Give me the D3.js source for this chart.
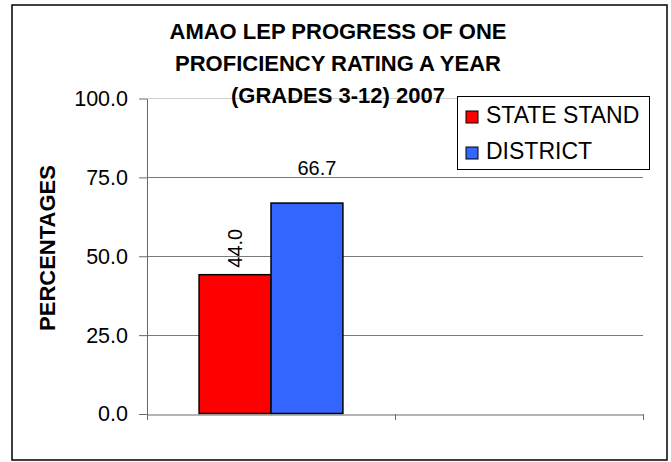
<!DOCTYPE html>
<html><head><meta charset="utf-8">
<script src="https://cdn.jsdelivr.net/npm/d3@7"></script>
<style>body{margin:0;background:#fff}svg{display:block;font-family:"Liberation Sans",Arial,sans-serif}</style>
</head><body><svg id="c" width="671" height="462"></svg>
<script>
const titleLines = ["AMAO LEP PROGRESS OF ONE", "PROFICIENCY RATING A YEAR", "(GRADES 3-12) 2007"];
const categories = ["2007", "(blank)"];
const seriesNames = ["STATE STAND", "DISTRICT"];
const seriesColors = ["#FF0000", "#3366FF"];
const stateValues = [44.0, null];
const districtValues = [66.7, null];
const yTicks = [0, 25, 50, 75, 100];
const yLabel = "PERCENTAGES";

const svg = d3.select("#c");
svg.append("rect").attr("x", 12).attr("y", 5).attr("width", 655).attr("height", 455)
  .attr("fill", "#fff").attr("stroke", "#000").attr("stroke-width", 1.5);

const L = 147, R = 643, T = 98, B = 413.5;
const y = d3.scaleLinear().domain([0, 100]).range([B, T]);
const x0 = d3.scaleBand().domain(categories).range([L, R]).paddingInner(0.42).paddingOuter(0.21);
const x1 = d3.scaleBand().domain(seriesNames).range([0, x0.bandwidth()]);

// gridlines
svg.append("g").selectAll("line").data(yTicks.filter(d => d > 0)).join("line")
  .attr("x1", L).attr("x2", R).attr("y1", d => Math.round(y(d)) + 0.5).attr("y2", d => Math.round(y(d)) + 0.5)
  .attr("stroke", d => d === 100 ? "#d0d0d0" : "#7a7a7a").attr("stroke-width", 1);

// y axis
const yAxis = svg.append("g").attr("transform", `translate(${L},0.5)`)
  .call(d3.axisLeft(y).tickValues(yTicks).tickFormat(d3.format(".1f")).tickSizeInner(8).tickSizeOuter(0).tickPadding(11));
yAxis.select(".domain").attr("stroke", "#6a6a6a");
yAxis.selectAll(".tick line").attr("stroke", "#6a6a6a");
yAxis.selectAll("text").attr("font-size", 21.5).attr("fill", "#000").attr("font-family", "Liberation Sans, Arial, sans-serif");

// bars
const data = categories.map((c, i) => ({cat: c, vals: [stateValues[i], districtValues[i]]}));
const groups = svg.append("g").selectAll("g").data(data).join("g")
  .attr("transform", d => `translate(${x0(d.cat)},0)`);
groups.selectAll("rect").data(d => d.vals.map((v, j) => ({v, s: seriesNames[j], j})).filter(e => e.v != null))
  .join("rect")
  .attr("x", e => x1(e.s)).attr("y", e => y(e.v))
  .attr("width", x1.bandwidth()).attr("height", e => y(0) - y(e.v))
  .attr("fill", e => seriesColors[e.j]).attr("stroke", "#000").attr("stroke-width", 1.5);

// x axis
const xAxis = svg.append("g").attr("transform", `translate(0,${Math.round(B) + 0.5})`)
  .call(d3.axisBottom(x0).tickSizeInner(0).tickSizeOuter(0).tickFormat(""));
xAxis.select(".domain").attr("stroke", "#6a6a6a");
xAxis.selectAll(".tick").remove();
const bounds = [L, ...categories.slice(1).map(c => x0(c) - x0.step() * x0.paddingInner() / 2), R];
svg.append("g").selectAll("line").data(bounds).join("line")
  .attr("x1", d => Math.round(d) + 0.5).attr("x2", d => Math.round(d) + 0.5)
  .attr("y1", Math.round(B)).attr("y2", Math.round(B) + 6).attr("stroke", "#6a6a6a");

// data labels
const c0 = x0(categories[0]);
svg.append("text")
  .attr("transform", `translate(${c0 + x1(seriesNames[0]) + x1.bandwidth() / 2 + 7},${y(stateValues[0]) - 7}) rotate(-90)`)
  .attr("font-size", 20).text(stateValues[0].toFixed(1));
svg.append("text")
  .attr("x", c0 + x1(seriesNames[1]) + x1.bandwidth() / 2 + 10).attr("y", y(districtValues[0]) - 28)
  .attr("text-anchor", "middle").attr("font-size", 20).text(districtValues[0].toFixed(1));

// title
svg.append("text").attr("text-anchor", "middle").attr("font-weight", "bold").attr("font-size", 22)
  .selectAll("tspan").data(titleLines).join("tspan")
  .attr("x", 338).attr("y", (d, i) => 38.5 + i * 32).text(d => d);

// y label
svg.append("text").attr("transform", "translate(55,248) rotate(-90)").attr("text-anchor", "middle")
  .attr("font-weight", "bold").attr("font-size", 22).text(yLabel);

// legend
const lg = svg.append("g");
lg.append("rect").attr("x", 457.5).attr("y", 96.5).attr("width", 192).attr("height", 73)
  .attr("fill", "#fff").attr("stroke", "#000").attr("stroke-width", 1);
const items = lg.selectAll("g").data(seriesNames).join("g")
  .attr("transform", (d, i) => `translate(0,${i * 36})`);
items.append("rect").attr("x", 466).attr("y", 111).attr("width", 12).attr("height", 12)
  .attr("fill", (d, i) => seriesColors[i]).attr("stroke", "#000").attr("stroke-width", 1);
items.append("text").attr("x", 486).attr("y", 123).attr("font-size", 23).text(d => d);
</script></body></html>
